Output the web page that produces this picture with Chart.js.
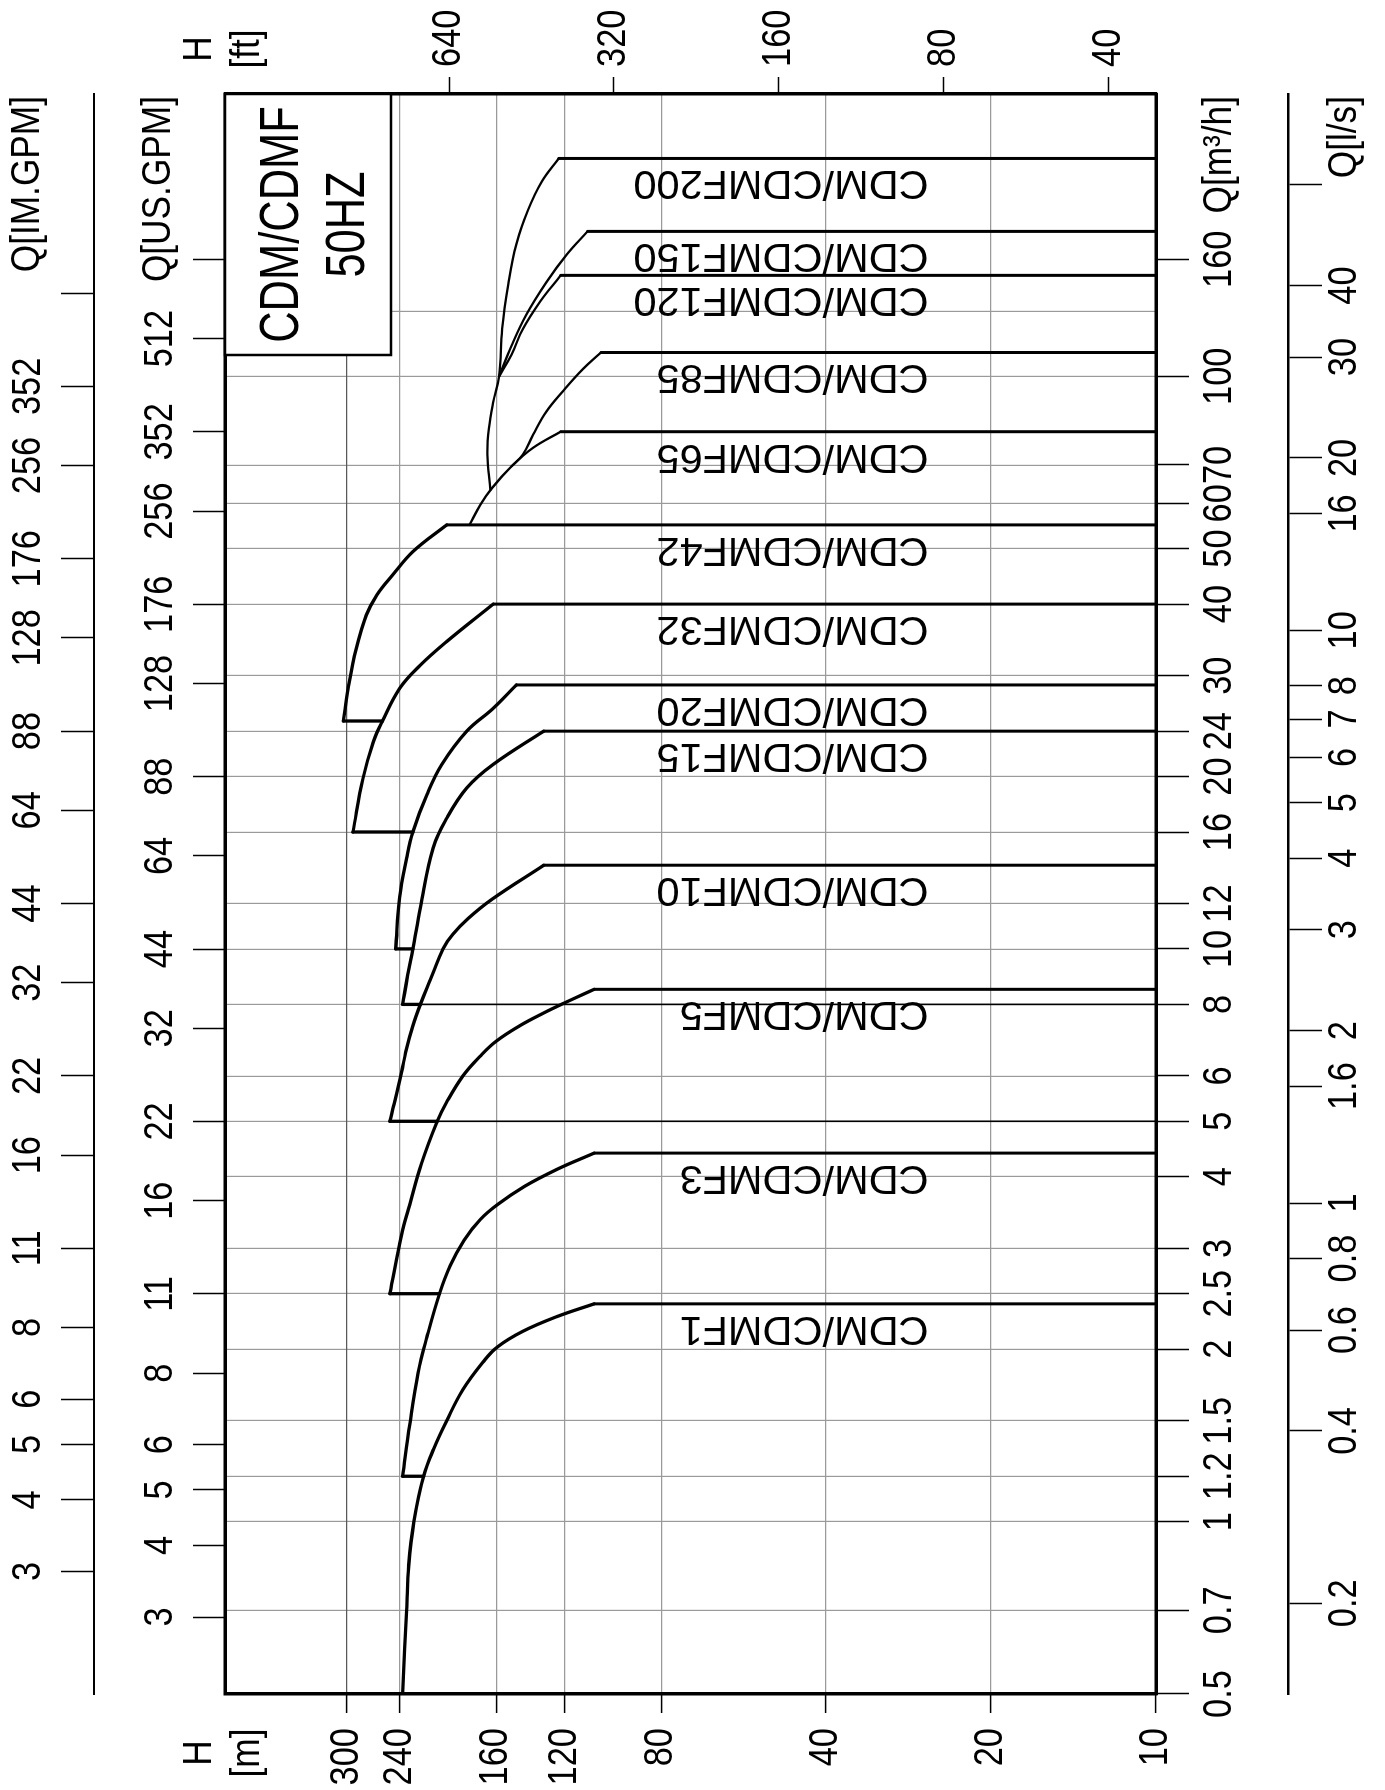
<!DOCTYPE html>
<html><head><meta charset="utf-8">
<script src="https://cdn.jsdelivr.net/npm/chart.js@4.4.1/dist/chart.umd.min.js"></script>
<style>
html,body{margin:0;padding:0;background:#fff;overflow:hidden;width:1385px;height:1790px;}
#wrap{position:absolute;left:0;top:0;width:1790px;height:1385px;transform-origin:0 0;transform:translate(0,1790px) rotate(-90deg);}
canvas{display:block;}
</style></head><body>
<div id="wrap"><canvas id="c" width="1790" height="1385"></canvas></div>
<script>
// ---------- axis ranges & ticks ----------
const qMin = 0.5, qMax = 311;          // m3/h
const hMin = 10, hMax = 500;           // m
const hTicks = [10, 20, 40, 80, 120, 160, 240, 300];
const hLabels = ['10', '20', '40', '80', '120', '160', '240', '300'];
const ftTicks = [40, 80, 160, 320, 640];
const ftLabels = ['40', '80', '160', '320', '640'];
const qTicks = [0.5, 0.7, 1, 1.2, 1.5, 2, 2.5, 3, 4, 5, 6, 8, 10, 12, 16, 20, 24, 30, 40, 50, 60, 70, 100, 160];
const qLabels = ['0.5', '0.7', '1', '1.2', '1.5', '2', '2.5', '3', '4', '5', '6', '8', '10', '12', '16', '20', '24', '30', '40', '50', '60', '70', '100', '160'];
const qGrid = [0.7, 1, 1.2, 1.5, 2, 2.5, 3, 4, 5, 6, 8, 10, 12, 16, 20, 24, 30, 40, 50, 60, 70, 100, 130];
const lsTicks = [0.2, 0.4, 0.6, 0.8, 1, 1.6, 2, 3, 4, 5, 6, 7, 8, 10, 16, 20, 30, 40, 60];
const lsLabels = ['0.2', '0.4', '0.6', '0.8', '1', '1.6', '2', '3', '4', '5', '6', '7', '8', '10', '16', '20', '30', '40', ''];
const usTicks = [3, 4, 5, 6, 8, 11, 16, 22, 32, 44, 64, 88, 128, 176, 256, 352, 512, 704];
const usLabels = ['3', '4', '5', '6', '8', '11', '16', '22', '32', '44', '64', '88', '128', '176', '256', '352', '512', ''];
const imTicks = [3, 4, 5, 6, 8, 11, 16, 22, 32, 44, 64, 88, 128, 176, 256, 352, 512];
const imLabels = ['3', '4', '5', '6', '8', '11', '16', '22', '32', '44', '64', '88', '128', '176', '256', '352', ''];

// ---------- pump curves (Q m3/h, H m) ----------
const pumpNames = ['CDM/CDMF1', 'CDM/CDMF3', 'CDM/CDMF5', 'CDM/CDMF10', 'CDM/CDMF15', 'CDM/CDMF20', 'CDM/CDMF32',
  'CDM/CDMF42', 'CDM/CDMF65', 'CDM/CDMF85', 'CDM/CDMF120', 'CDM/CDMF150', 'CDM/CDMF200'];
const cdm1Q = [0.5, 0.6, 0.7, 0.84, 1.0, 1.2, 1.34, 1.5, 1.7, 1.9, 2.02, 2.15, 2.28, 2.4];
const cdm1H = [237, 235, 233, 231, 226, 217, 208, 197, 184, 169, 159, 143, 124, 106];
const cdm3Q = [1.2, 1.48, 1.82, 2.1, 2.5, 2.8, 3.1, 3.37, 3.58, 3.85, 4.12, 4.4];
const cdm3H = [237, 230, 222, 214, 203, 194, 183, 171, 159, 142, 124, 106];
const cdm5Q = [2.5, 3.17, 3.58, 4.22, 5.0, 5.4, 6.0, 6.5, 6.9, 7.34, 7.73, 8.05, 8.5];
const cdm5H = [250, 238, 230, 219, 205, 197, 184, 171, 160, 145, 131, 120, 106];
const cdm10Q = [5, 6.1, 6.6, 7.34, 8, 8.83, 10, 10.6, 11.3, 12.2, 14];
const cdm10H = [250, 238, 234, 227, 220, 211, 200, 192, 180, 163, 131];
const cdm15Q = [8, 9, 10, 11.8, 15, 16.9, 19.1, 21, 24];
const cdm15H = [237, 232, 227, 220, 208.5, 197, 181, 162, 131];
const cdm20Q = [10, 12.3, 14.4, 16, 18.6, 21, 24, 26.3, 28.9];
const cdm20H = [244, 240, 233, 227, 214, 201, 181, 162, 147];
const cdm32Q = [16, 19.85, 23, 25, 28.5, 31.3, 34.4, 40];
const cdm32H = [292, 280, 268, 258, 240, 220, 197, 162];
const cdm42Q = [25, 28.5, 33.5, 38.3, 41.5, 45, 49.4, 55];
const cdm42H = [304, 298, 288, 276, 264, 247, 227, 197];
const cdm65Q = [55, 59.6, 63.7, 69.6, 75, 80];
const cdm65H = [179, 171, 163, 150, 137, 122];
const cdm85Q = [69.6, 73, 79, 86.8, 94, 103, 110];
const cdm85H = [150, 143, 137, 129.5, 121, 111, 103];
const cdm120Q = [100, 109, 121, 135, 150];
const cdm120H = [158, 150, 143, 133, 122];
const cdm150Q = [100, 113, 128, 146, 163, 179];
const cdm150H = [158, 150, 141, 129.5, 119, 109];
const cdm200Q = [63.3, 73, 81, 90, 100, 121, 145, 170, 195, 219, 240];
const cdm200H = [164, 166, 165, 162, 158, 156, 152, 147, 140, 132, 123];

// start segments: pump index -> head where it meets the previous curve
const joinPump = [1, 2, 3, 4, 5, 6, 7];
const joinToH = [217, 203, 205, 220, 227, 227, 258];
// thin lower-limit lines
const thinQ = [5, 8];
const thinFromH = [205, 220];

// ---------- fonts ----------
const mc = document.createElement('canvas').getContext('2d');
function tw(f) { mc.font = f; return mc.measureText('0123456789 CDMQ').width; }
const narrowOK = Math.abs(tw('40px "Liberation Sans Narrow", monospace') - tw('40px monospace')) > 2 &&
                 Math.abs(tw('40px "Liberation Sans Narrow", serif') - tw('40px serif')) > 2;
const AX_FAM = narrowOK ? '"Liberation Sans Narrow","Arial Narrow",sans-serif' : '"Liberation Sans",Arial,sans-serif';
const SQ = narrowOK ? 1.04 : 0.86;      // horizontal squeeze for axis text
const SQT = narrowOK ? 0.96 : 0.79;     // squeeze for title text

function txt(ctx, s, x, y, size, sq, align, base) {
  ctx.save();
  ctx.translate(x, y); ctx.scale(sq, 1);
  ctx.font = size + 'px ' + AX_FAM; ctx.textAlign = align; ctx.textBaseline = base;
  ctx.fillText(s, 0, 0);
  ctx.restore();
}

// ---------- datasets ----------
const curves = [[cdm1Q, cdm1H], [cdm3Q, cdm3H], [cdm5Q, cdm5H], [cdm10Q, cdm10H], [cdm15Q, cdm15H], [cdm20Q, cdm20H],
  [cdm32Q, cdm32H], [cdm42Q, cdm42H], [cdm65Q, cdm65H], [cdm85Q, cdm85H], [cdm120Q, cdm120H], [cdm150Q, cdm150H], [cdm200Q, cdm200H]];
const datasets = [];
function ds(pts, w, smooth) {
  return { data: pts, borderColor: '#000', borderWidth: w, pointRadius: 0, fill: false,
    tension: smooth ? 0.4 : 0, borderCapStyle: 'round', borderJoinStyle: 'round', xAxisID: 'x', yAxisID: 'yH' };
}
curves.forEach(([q, h], i) => {
  const w = i < 8 ? 3.3 : 2.3;
  datasets.push(ds(q.map((v, k) => ({ x: v, y: h[k] })), w, true));
  const qe = q[q.length - 1], he = h[h.length - 1];
  datasets.push(ds([{ x: qe, y: he }, { x: qe, y: hMin }], 3, false));
});
joinPump.forEach((p, k) => {
  const [q, h] = curves[p];
  datasets.push(ds([{ x: q[0], y: h[0] }, { x: q[0], y: joinToH[k] }], 3.3, false));
});
thinQ.forEach((q, k) => datasets.push(ds([{ x: q, y: thinFromH[k] }, { x: q, y: hMin }], 1.6, false)));

// ---------- scales ----------
function qAxis(pos, weight, height, vals, conv, tickLen, borderW) {
  return {
    type: 'logarithmic', position: pos, weight: weight, min: qMin, max: qMax, bounds: 'data',
    afterBuildTicks: s => { s.ticks = vals.map(v => ({ value: v * conv })); },
    afterFit: s => { s.height = height; },
    ticks: { display: false, autoSkip: false },
    grid: { drawOnChartArea: false, drawTicks: true, tickLength: tickLen, tickColor: '#000', tickWidth: 1.5, color: '#000' },
    border: { display: true, color: '#000', width: borderW }
  };
}
const scales = {
  x: qAxis('bottom', 0, 132, qTicks, 1, 33, 3),
  x2: qAxis('bottom', 1, 97, lsTicks, 3.6, 34, 2.5),
  xUS: qAxis('top', 0, 131, usTicks, 0.22712, 32, 3),
  xIM: qAxis('top', 1, 94, imTicks, 0.272765, 33, 2),
  xg: {
    type: 'logarithmic', position: 'top', weight: 5, min: qMin, max: qMax, bounds: 'data',
    afterBuildTicks: s => { s.ticks = qGrid.map(v => ({ value: v })); },
    afterFit: s => { s.height = 0; },
    ticks: { display: false },
    grid: { drawOnChartArea: true, drawTicks: false, color: '#9a9a9a', lineWidth: 1.2 },
    border: { display: false }
  },
  yH: {
    type: 'logarithmic', position: 'left', min: hMin, max: hMax, bounds: 'data',
    afterBuildTicks: s => { s.ticks = hTicks.map(v => ({ value: v })); },
    afterFit: s => { s.width = 96; },
    ticks: { display: false, autoSkip: false },
    grid: { drawOnChartArea: true, lineWidth: 1.2, tickLength: 19, tickColor: '#000', tickWidth: 1.5,
      color: c => (c.tick && c.tick.value === 300) ? '#5a5a5a' : (c.tick && c.tick.value === 10 ? 'rgba(0,0,0,0)' : '#9a9a9a') },
    border: { display: true, color: '#000', width: 3 }
  },
  yFt: {
    type: 'logarithmic', position: 'right', min: hMin, max: hMax, bounds: 'data',
    afterBuildTicks: s => { s.ticks = ftTicks.map(v => ({ value: v * 0.3048 })); },
    afterFit: s => { s.width = 94; },
    ticks: { display: false, autoSkip: false },
    grid: { drawOnChartArea: false, tickLength: 17, tickColor: '#000', tickWidth: 1.5, color: '#000' },
    border: { display: true, color: '#000', width: 3 }
  }
};

// ---------- decorations ----------
const decor = {
  id: 'decor',
  beforeDatasetsDraw(chart) {
    const { ctx, chartArea: a } = chart;
    ctx.save();
    ctx.strokeStyle = '#000'; ctx.lineWidth = 3;
    ctx.strokeRect(a.left, a.top, a.right - a.left, a.bottom - a.top);
    ctx.restore();
  },
  afterDatasetsDraw(chart) {
    const { ctx, chartArea: a, scales: s } = chart;
    ctx.save();
    ctx.fillStyle = '#000';
    // tick labels
    const AS = 40;
    qTicks.forEach((v, i) => txt(ctx, qLabels[i], s.x.getPixelForValue(v), s.x.top + 64, AS, SQ, 'center', 'middle'));
    lsTicks.forEach((v, i) => txt(ctx, lsLabels[i], s.x2.getPixelForValue(v * 3.6), s.x2.top + 57, AS, SQ, 'center', 'middle'));
    usTicks.forEach((v, i) => txt(ctx, usLabels[i], s.xUS.getPixelForValue(v * 0.22712), s.xUS.bottom - 64, AS, SQ, 'center', 'middle'));
    imTicks.forEach((v, i) => txt(ctx, imLabels[i], s.xIM.getPixelForValue(v * 0.272765), s.xIM.bottom - 65, AS, SQ, 'center', 'middle'));
    hTicks.forEach((v, i) => txt(ctx, hLabels[i], s.yH.right - 34, s.yH.getPixelForValue(v), AS, SQ, 'right', 'middle'));
    ftTicks.forEach((v, i) => txt(ctx, ftLabels[i], s.yFt.left + 27, s.yFt.getPixelForValue(v * 0.3048), AS, SQ, 'left', 'middle'));

    // axis titles
    txt(ctx, 'Q[m\u00B3/h]', a.right - 2, s.x.top + 64, 41, SQ, 'right', 'middle');
    txt(ctx, 'Q[l/s]', a.right - 2, s.x2.top + 57, 41, SQ, 'right', 'middle');
    txt(ctx, 'Q[US.GPM]', a.right - 2, s.xUS.bottom - 66, 41, SQ, 'right', 'middle');
    txt(ctx, 'Q[IM.GPM]', a.right - 2, s.xIM.bottom - 66, 41, SQ, 'right', 'middle');
    const hx = s.yH.left + 37, fx = s.yFt.left + 45;
    txt(ctx, 'H', hx, a.top - 14, 41, SQ, 'center', 'alphabetic');
    txt(ctx, '[m]', hx, a.top + 34, 41, SQ, 'center', 'alphabetic');
    txt(ctx, 'H', fx, a.top - 14, 41, SQ, 'center', 'alphabetic');
    txt(ctx, '[ft]', fx, a.top + 34, 41, SQ, 'center', 'alphabetic');

    // title box
    const bw = 261, bh = 166, bx = a.right - bw, by = a.top;
    ctx.fillStyle = '#fff'; ctx.fillRect(bx, by, bw, bh);
    ctx.strokeStyle = '#000'; ctx.lineWidth = 2.5; ctx.strokeRect(bx, by, bw, bh);
    ctx.fillStyle = '#000';
    txt(ctx, 'CDM/CDMF', bx + bw / 2, by + 73, 55, SQT, 'center', 'alphabetic');
    txt(ctx, '50HZ', bx + bw / 2, by + 139, 55, SQT, 'center', 'alphabetic');

    // pump labels (written along the max-flow lines)
    ctx.font = '41.5px "Liberation Sans",Arial,sans-serif';
    ctx.textAlign = 'left'; ctx.textBaseline = 'alphabetic';
    const ly = s.yH.getPixelForValue(26);
    curves.forEach(([q], i) => {
      const lx = s.x.getPixelForValue(q[q.length - 1]) - 13;
      ctx.save(); ctx.translate(lx, ly); ctx.rotate(-Math.PI / 2);
      ctx.fillText(pumpNames[i], 0, 0);
      ctx.restore();
    });
    ctx.restore();
  }
};

new Chart(document.getElementById('c'), {
  type: 'line',
  data: { datasets: datasets },
  options: {
    responsive: false, animation: false, devicePixelRatio: 1,
    layout: { padding: 0, autoPadding: false },
    plugins: { legend: { display: false }, tooltip: { enabled: false } },
    scales: scales
  },
  plugins: [decor]
});
</script>
</body></html>
